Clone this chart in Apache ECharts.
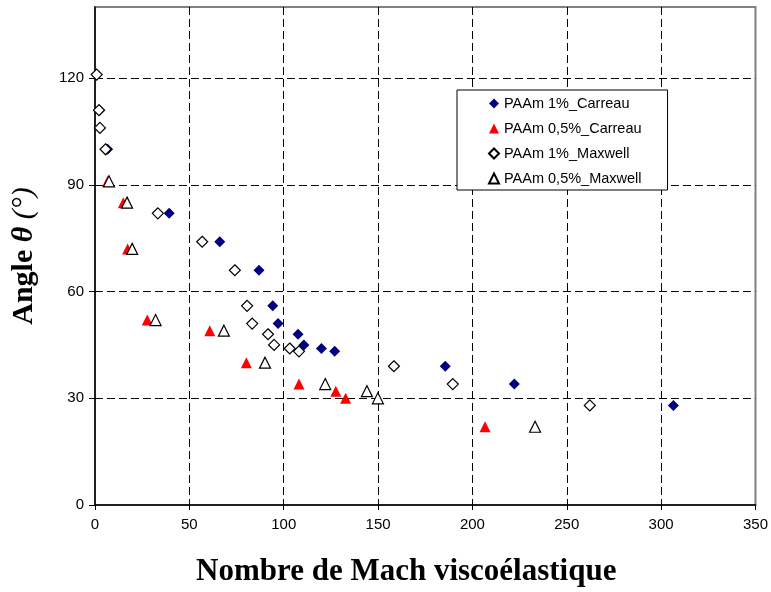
<!DOCTYPE html>
<html>
<head>
<meta charset="utf-8">
<script src="https://cdn.jsdelivr.net/npm/echarts@6/dist/echarts.min.js"></script>
<style>
  html, body { margin: 0; padding: 0; background: #fff; }
  #chart { width: 771px; height: 592px; }
</style>
</head>
<body>
<div id="chart"></div>
<script>
// valeurs : [Mach viscoélastique, angle]
var carreau1 = [[2.5, 111], [6.7, 100], [39.3, 82], [66.1, 74], [86.9, 66], [94.2, 56], [97, 51],
  [107.6, 48], [110.7, 45], [120, 44], [127, 43.2], [185.6, 39], [222.2, 34], [306.5, 28]];
var carreau05 = [[6.7, 91], [15, 85], [17.3, 72], [27.7, 52], [60.8, 49], [80.2, 40], [108.1, 34],
  [127.6, 32], [132.8, 30], [206.7, 22]];
var maxwell1 = [[0.9, 121], [2.1, 111], [2.6, 106], [5.6, 100], [33.3, 82], [56.8, 74], [74.1, 66],
  [80.6, 56], [83.3, 51], [91.7, 48], [94.9, 45], [103.2, 44], [108.1, 43.2], [158.4, 39],
  [189.6, 34], [262.2, 28]];
var maxwell05 = [[7.4, 91], [17, 85], [19.7, 72], [32.1, 52], [68.3, 49], [90.1, 40], [122, 34],
  [144.1, 32], [149.9, 30], [233.2, 22]];

var seriesNames = ['PAAm 1%_Carreau', 'PAAm 0,5%_Carreau', 'PAAm 1%_Maxwell', 'PAAm 0,5%_Maxwell'];

var myChart = echarts.init(document.getElementById('chart'));

var gridLine = { show: true, showMinLine: false, showMaxLine: false,
  lineStyle: { color: '#000', width: 1, type: [8, 4] } };

option = {
  animation: false,
  grid: { left: 95, right: 14.5, top: 7, bottom: 87, show: true, borderColor: '#808080', borderWidth: 2 },
  legend: {
    orient: 'vertical',
    left: 457, top: 90,
    padding: [6, 26, 4, 31],
    backgroundColor: '#fff',
    borderColor: '#000', borderWidth: 1,
    itemWidth: 10, itemHeight: 10, itemGap: 10,
    textStyle: { fontFamily: 'Liberation Sans', fontSize: 14.5, color: '#000', lineHeight: 14 },
    data: seriesNames
  },
  xAxis: {
    type: 'value', min: 0, max: 350, interval: 50,
    name: 'Nombre de Mach viscoélastique',
    nameLocation: 'middle', nameGap: 51,
    nameTextStyle: { fontFamily: 'Liberation Serif', fontWeight: 'bold', fontSize: 31, color: '#000',
      padding: [0, 38, 0, 0] },
    axisLine: { lineStyle: { color: '#000', width: 1.5 } },
    axisTick: { show: true, length: 5, lineStyle: { color: '#000' } },
    axisLabel: { fontFamily: 'Liberation Sans', fontSize: 15, color: '#000', margin: 12 },
    splitLine: gridLine
  },
  yAxis: {
    type: 'value', min: 0, max: 140, interval: 30,
    name: '{a|Angle }{b|θ}{c| (°)}',
    nameLocation: 'middle', nameGap: 56,
    nameTextStyle: {
      rich: {
        a: { fontFamily: 'Liberation Serif', fontWeight: 'bold', fontSize: 30, color: '#000' },
        b: { fontFamily: 'Liberation Serif', fontWeight: 'bold', fontStyle: 'italic', fontSize: 30, color: '#000' },
        c: { fontFamily: 'Liberation Serif', fontStyle: 'italic', fontSize: 30, color: '#000' }
      }
    },
    axisLine: { show: true, lineStyle: { color: '#000', width: 1.5 } },
    axisTick: { show: true, length: 6, lineStyle: { color: '#000' } },
    axisLabel: { fontFamily: 'Liberation Sans', fontSize: 15, color: '#000', margin: 11, showMaxLabel: false },
    splitLine: gridLine
  },
  series: [
    {
      name: seriesNames[0], type: 'scatter', data: carreau1,
      symbol: 'diamond', symbolSize: 11,
      itemStyle: { color: '#000080', opacity: 1 }
    },
    {
      name: seriesNames[1], type: 'scatter', data: carreau05,
      symbol: 'triangle', symbolSize: 11,
      itemStyle: { color: '#ff0000', opacity: 1 }
    },
    {
      name: seriesNames[2], type: 'scatter', data: maxwell1,
      symbol: 'diamond', symbolSize: 11,
      itemStyle: { color: '#fff', borderColor: '#000', borderWidth: 1.2, opacity: 1 }
    },
    {
      name: seriesNames[3], type: 'scatter', data: maxwell05,
      symbol: 'triangle', symbolSize: 11,
      itemStyle: { color: '#fff', borderColor: '#000', borderWidth: 1.2, opacity: 1 }
    }
  ]
};

myChart.setOption(option);
</script>
</body>
</html>
